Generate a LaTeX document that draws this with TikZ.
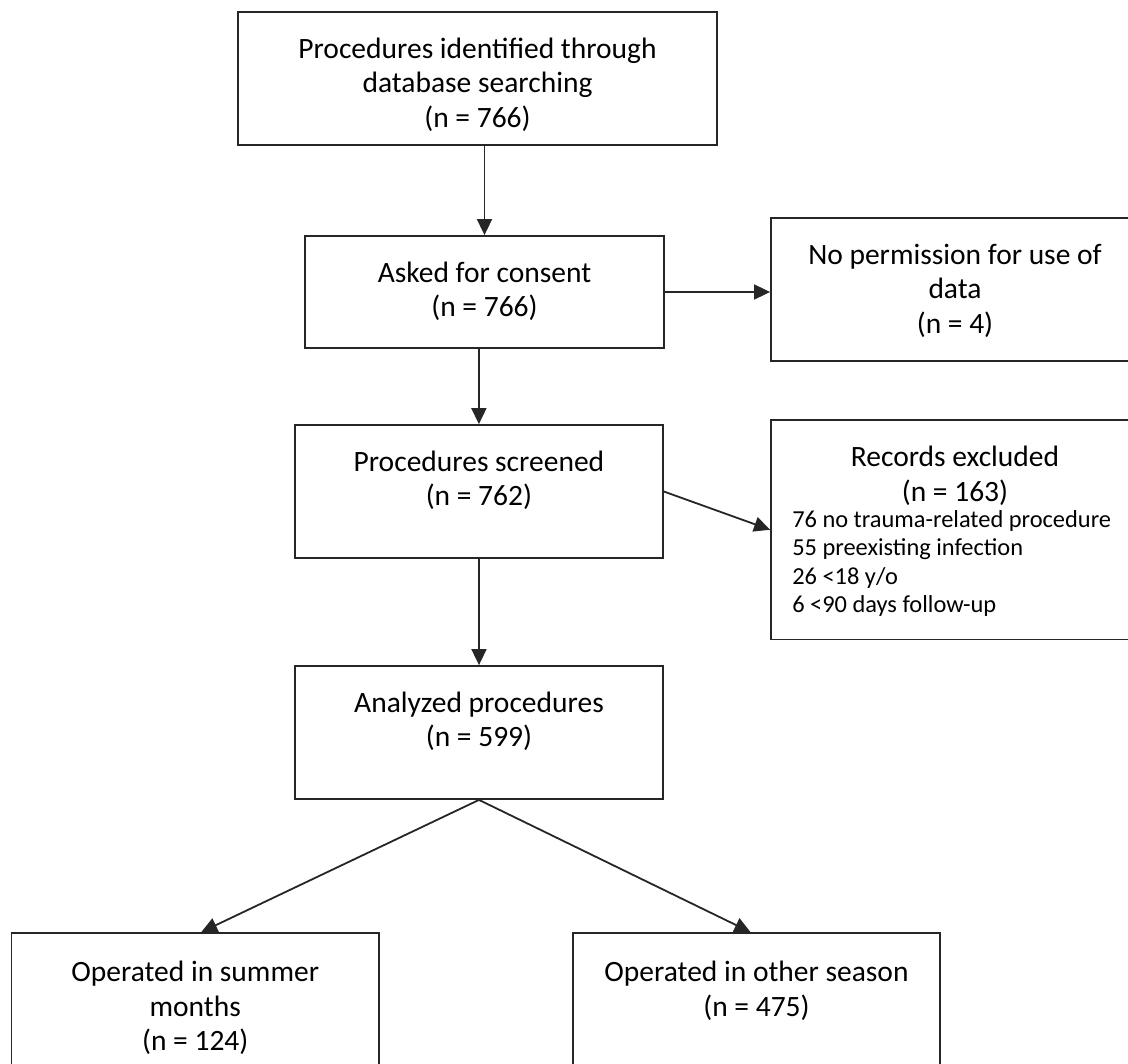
\documentclass[tikz,border=0pt]{standalone}
\usepackage{fontspec}
\setmainfont{Carlito}
\usetikzlibrary{arrows.meta,positioning}

\begin{document}
\begin{tikzpicture}[x=1pt, y=-1pt,
    box/.style={draw=black!85, line width=1.8pt, minimum width=368pt, minimum height=133pt, inner sep=0pt},
    txt/.style={align=center, inner sep=0pt, font=\fontsize{29.5}{34.5}\selectfont},
    listtxt/.style={align=left, inner sep=0pt, font=\fontsize{24.4}{28.2}\selectfont},
    arr/.style={draw=black!85, line width=1.8pt, -{Triangle[length=16pt,width=15pt]}}]
    \useasboundingbox (0,0) rectangle (1128,1064);
    \node[box, minimum width=479pt] (intro) at (477.5,78.5) {};
    \node[box, minimum width=359pt, minimum height=112pt] (consent) at (484.5,292) {};
    \node[box, minimum height=143pt] (nopermit) at (955,289.5) {};
    \node[box] (screened) at (478.9,491.5) {};
    \node[box, minimum height=219.5pt] (excluded) at (955,529.75) {};
    \node[box] (analyzed) at (479,732.5) {};
    \node[box, minimum width=367.5pt, minimum height=142pt] (summer) at (195.25,1004) {};
    \node[box, minimum width=367pt, minimum height=142pt] (other) at (756.5,1004) {};
    \node[txt, below=26.5pt of intro.north] (introtxt) {Procedures identified through\\database searching\\(n = 766)};
    \node[txt, below=26.5pt of consent.north] (consenttxt) {Asked for consent\\(n = 766)};
    \node[txt, below=26.5pt of nopermit.north] (nopermittxt) {No permission for use of\\data\\(n = 4)};
    \node[txt, below=26.5pt of screened.north] (screenedtxt) {Procedures screened\\(n = 762)};
    \node[txt, below=27pt of excluded.north] (excludedtxt) {Records excluded\\(n = 163)};
    \node[listtxt, anchor=north west] (excludedlist) at ([xshift=22pt, yshift=-91.5pt]excluded.north west)
        {76 no trauma-related procedure\\55 preexisting infection\\26 <18 y/o\\6 <90 days follow-up};
    \node[txt, below=26.5pt of analyzed.north] (analyzedtxt) {Analyzed procedures\\(n = 599)};
    \node[txt, below=29pt of summer.north] (summertxt) {Operated in summer\\months\\(n = 124)};
    \node[txt, below=29pt of other.north] (othertxt) {Operated in other season\\(n = 475)};
    \draw[arr] (intro.south -| consent.north) -- (consent.north);
    \draw[arr] (consent.east) -- (consent.east -| nopermit.west);
    \draw[arr] (consent.south -| screened.north) -- (screened.north);
    \draw[arr] (screened.east) -- (excluded.west);
    \draw[arr] (screened.south) -- (analyzed.north);
    \draw[arr] (analyzed.south) -- ([xshift=6pt]summer.north);
    \draw[arr] (analyzed.south) -- ([xshift=-6pt]other.north);
\end{tikzpicture}
\end{document}
